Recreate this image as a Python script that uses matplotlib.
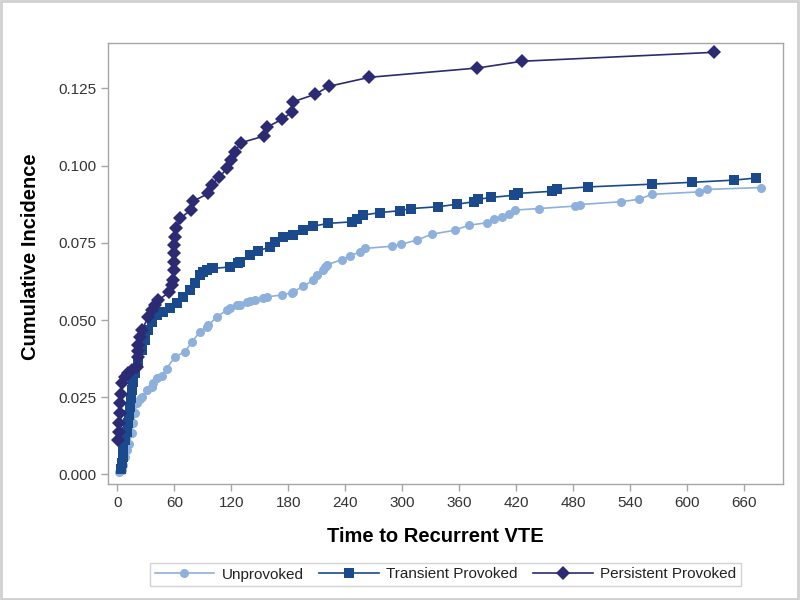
import matplotlib
matplotlib.use("Agg")
import matplotlib.pyplot as plt
from matplotlib.patches import Rectangle

plt.rcParams['font.family'] = ['Liberation Sans', 'DejaVu Sans']

# cumulative incidence, days vs incidence
unprov_x = [2, 4.4, 5.5, 7.9, 9.7, 12.4, 15, 16.6, 18.4, 20.2, 23.7, 25.5, 30.8, 36, 37.7, 41.3,
            46.6, 51.8, 60.6, 71.1, 78.2, 86.9, 94, 95.7, 104.5, 115.1, 118.5, 125.6, 129.1, 136.1,
            139.6, 144.9, 153.6, 157.2, 173, 183.6, 185.2, 195.8, 206.3, 209.9, 216.9, 218.6, 220.4,
            236.2, 245, 255.5, 260.8, 288.9, 298.4, 315.3, 331.1, 355.6, 369.7, 389, 396, 404.8,
            411.8, 418.9, 443.4, 482.1, 486.6, 530.2, 548.8, 562.9, 612, 620.9, 678.1]
unprov_y = [0.0007, 0.0014, 0.003, 0.0057, 0.0079, 0.010, 0.0133, 0.0165, 0.0198, 0.023, 0.0245,
            0.0251, 0.0273, 0.0284, 0.0295, 0.0311, 0.0320, 0.0343, 0.0381, 0.0397, 0.0429, 0.0462,
            0.0478, 0.0483, 0.051, 0.0532, 0.0538, 0.0548, 0.0550, 0.0559, 0.0561, 0.0564, 0.057,
            0.0575, 0.0581, 0.0589, 0.0591, 0.0610, 0.0629, 0.0645, 0.0662, 0.0672, 0.0678, 0.0696,
            0.0708, 0.0721, 0.0732, 0.0739, 0.0745, 0.0759, 0.0778, 0.0791, 0.0807, 0.0815, 0.0826,
            0.0834, 0.0843, 0.0856, 0.0861, 0.0869, 0.0874, 0.0883, 0.0891, 0.0907, 0.0915, 0.0923,
            0.0929]

trans_x = [3.4, 4.4, 5.5, 6.1, 7.9, 9.7, 11.4, 12.4, 13.2, 13.9, 15, 16, 16.6, 18.4, 21.9, 25.5,
           29, 32.5, 36, 41.3, 48.3, 55.3, 62.4, 69.3, 76.4, 81.7, 86.9, 90.4, 94, 99.3, 101,
           118.5, 127.3, 129.1, 139.6, 148.4, 160.7, 166, 174.7, 185.2, 195.8, 206.3, 222.1, 246.8,
           252, 259, 276.6, 297, 309.3, 338, 357.4, 374.9, 379.5, 393.6, 417.1, 421.7, 457.5,
           462.8, 495.5, 562.9, 605, 648.9, 672.8]
trans_y = [0.0019, 0.0036, 0.0057, 0.0079, 0.0111, 0.0138, 0.0165, 0.0192, 0.0219, 0.0246, 0.0273,
           0.030, 0.0316, 0.0327, 0.036, 0.0403, 0.0435, 0.0467, 0.0494, 0.0516, 0.0527, 0.0538,
           0.0554, 0.0575, 0.0597, 0.0619, 0.0645, 0.0656, 0.0662, 0.0667, 0.0667, 0.0672, 0.0684,
           0.0688, 0.071, 0.0724, 0.0737, 0.0753, 0.0769, 0.0775, 0.0791, 0.0804, 0.0813, 0.0818,
           0.0826, 0.084, 0.0848, 0.0854, 0.0861, 0.0867, 0.0875, 0.0883, 0.0891, 0.0897, 0.0904,
           0.091, 0.0917, 0.0924, 0.0931, 0.094, 0.0946, 0.0953, 0.096]

pers_x = [1, 1.5, 2, 2.5, 3, 3.5, 4.5, 8, 11.4, 15, 20.9, 21.9, 22, 21.9, 23.7, 25.5, 32.5, 36,
          39.5, 43, 54.6, 57.1, 58.2, 59.5, 59.5, 59.5, 59.5, 60.6, 61.6, 65.9, 77.1, 79.9, 95.7,
          99.3, 107.3, 115.7, 119.3, 123.8, 129.8, 154.7, 157.2, 173, 184.2, 185.2, 208.1, 222.9,
          265.3, 378.8, 426.2, 628.6]
pers_y = [0.0111, 0.0138, 0.0165, 0.0198, 0.023, 0.0262, 0.0295, 0.0316, 0.0327, 0.0338, 0.0348,
          0.0381, 0.040, 0.0419, 0.0446, 0.0467, 0.051, 0.0532, 0.0548, 0.0564, 0.0591, 0.0613,
          0.0629, 0.0662, 0.0688, 0.0716, 0.0743, 0.0769, 0.0797, 0.0829, 0.0856, 0.0885, 0.091,
          0.0937, 0.0964, 0.0991, 0.1018, 0.1045, 0.1074, 0.1096, 0.1124, 0.115, 0.1174, 0.1207,
          0.1231, 0.1257, 0.1286, 0.1316, 0.1338, 0.1367]

x_ticks = list(range(0, 661, 60))
y_ticks = [0.0, 0.025, 0.05, 0.075, 0.1, 0.125]

c_unprov = '#8EB0DC'
c_trans = '#1A4A8C'
c_pers = '#2B2A72'
grey = '#A6A6A6'

fig = plt.figure(figsize=(8, 6), dpi=100)
ax = fig.add_axes([0.135, 0.1933, 0.844, 0.735])

ax.plot(unprov_x, unprov_y, color=c_unprov, lw=1.2, marker='o', ms=6.5,
        markeredgewidth=0, label='Unprovoked')
ax.plot(trans_x, trans_y, color=c_trans, lw=1.2, marker='s', ms=6.5,
        markeredgewidth=0, label='Transient Provoked')
ax.plot(pers_x, pers_y, color=c_pers, lw=1.2, marker='D', ms=7,
        markeredgewidth=0, label='Persistent Provoked')

ax.set_xlim(-10, 701)
ax.set_ylim(-0.0031, 0.1397)
ax.set_xticks(x_ticks)
ax.set_yticks(y_ticks)
ax.set_yticklabels(['%.3f' % v for v in y_ticks])

for s in ax.spines.values():
    s.set_color(grey)
    s.set_linewidth(1)
ax.tick_params(colors=grey, labelcolor='#333333', labelsize=11, length=5, width=1)

ax.set_xlabel('Time to Recurrent VTE', fontsize=14.5, fontweight='bold')
ax.set_ylabel('Cumulative Incidence', fontsize=14.5, fontweight='bold')
ax.xaxis.set_label_coords(0.485, -0.097)
ax.yaxis.set_label_coords(-0.1, 0.516)

leg = fig.legend(loc='center', bbox_to_anchor=(445.5 / 800, 1 - 574.5 / 600), ncol=3,
                 frameon=True, fancybox=False, fontsize=11, handlelength=3.9,
                 columnspacing=1.0, handletextpad=0.5, borderpad=0.3)
leg.get_frame().set_edgecolor('#C8C8C8')
leg.get_frame().set_linewidth(1)
for t in leg.get_texts():
    t.set_color('#222222')

fig.patches.append(Rectangle((0.001, 0.001), 0.996, 0.997, transform=fig.transFigure,
                             fill=False, edgecolor='#D0D0D0', lw=2))

fig.savefig('out.png', dpi=100)
